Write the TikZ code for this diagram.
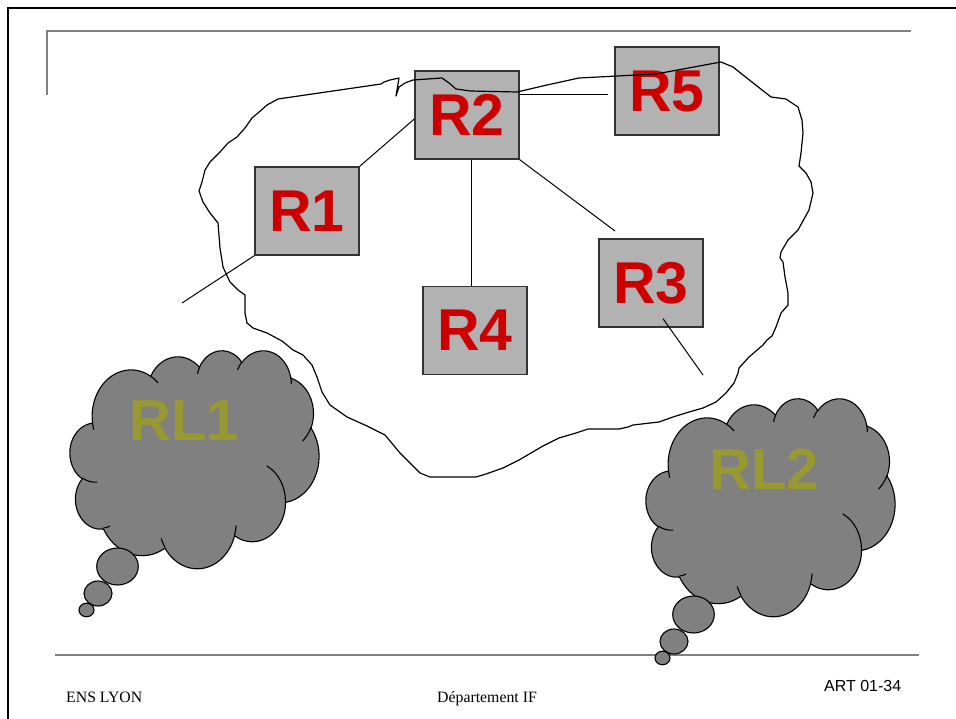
\documentclass[tikz,border=0pt]{standalone}
\usepackage{fontspec}
\setmainfont{Liberation Serif}
\newfontfamily\arialfont{Liberation Sans}

\definecolor{routerred}{HTML}{CC0000}
\definecolor{lanolive}{HTML}{999933}
\definecolor{boxfill}{HTML}{B2B2B2}
\definecolor{boxedge}{HTML}{333333}
\definecolor{cloudgray}{HTML}{808080}
\definecolor{rulegray}{HTML}{808080}

% Elliptical arc in the DrawingML convention: visual start angle and sweep
% are turned into the parametric angles that TikZ's arc expects.
\newcommand\cldang[4]{%
  \pgfmathparse{atan2((#1)*sin(#3),(#2)*cos(#3))}\xdef\cldts{\pgfmathresult}%
  \pgfmathparse{atan2((#1)*sin((#3)+(#4)),(#2)*cos((#3)+(#4)))}\xdef\cldte{\pgfmathresult}%
  \pgfmathparse{\cldte-(\cldts)}\xdef\cldd{\pgfmathresult}%
  \pgfmathparse{\cldd<0 ? \cldd+360 : \cldd}\xdef\cldd{\pgfmathresult}%
}
\newcommand\carc[4]{\pgfextra{\cldang{#1}{#2}{#3}{#4}} arc[x radius=#1, y radius=#2, start angle=\cldts, delta angle=\cldd]}

% Cloud outline on a 432 x 432 grid, with its inner arc ends
\newcommand\cldcloud{%
  \draw[cloudbody] (39.00,143.70)
    \carc{67.53}{91.90}{-190.487483}{123.780533}
    \carc{53.33}{72.67}{-144.102383}{89.945233}
    \carc{43.65}{59.45}{-145.807917}{99.723017}
    \carc{48.57}{65.95}{-130.986067}{117.241733}
    \carc{53.33}{72.73}{-78.708883}{109.026917}
    \carc{67.75}{92.20}{-46.26725}{130.269}
    \carc{57.85}{78.67}{0.625017}{114.033333}
    \carc{67.52}{92.15}{22.4516}{115.17255}
    \carc{77.20}{105.43}{66.242633}{75.711017}
    \carc{43.60}{59.18}{-274.942083}{146.735567}
    \carc{43.45}{59.45}{-246.8285}{152.51885}
    -- cycle;
  \draw[cloudline]
    (46.93,261.77) \carc{43.45}{59.45}{86.742}{26.4295}
    (69.28,348.99) \carc{43.60}{59.18}{73.610467}{11.447467}
    (164.78,390.90) \carc{67.52}{92.15}{137.62415}{14.0811}
    (288.27,347.51) \carc{67.52}{92.15}{6.453267}{15.99835}
    (341.29,229.54) \carc{57.85}{78.67}{-70.29235}{70.917367}
    (417.98,153.54) \carc{53.33}{72.73}{30.318033}{27.7515}
    (383.24,54.26) \carc{48.57}{65.95}{-13.744333}{14.8589}
    (290.78,39.52) \carc{48.57}{65.95}{-149.18145}{18.195367}
    (221.41,47.20) \carc{43.65}{59.45}{-163.494267}{17.68635}
    (140.00,51.92) \carc{67.53}{91.90}{-66.70695}{12.31935}
    (41.27,157.89) \carc{67.53}{91.90}{157.65435}{11.856783};
}

% Thought cloud with its three bubbles; #1,#2 = top-left corner
\newcommand\thoughtcloud[2]{%
  \begin{scope}[shift={(#1,#2)}, x=0.576389pt, y=-0.504630pt]
    \cldcloud
  \end{scope}
  \begin{scope}[shift={(#1,#2)}]
    \draw[cloudbody] (47.5,216.5) ellipse [x radius=20.8, y radius=18.5];
    \draw[cloudbody] (28,243.5) ellipse [x radius=14, y radius=12.5];
    \draw[cloudbody] (16.5,260) ellipse [x radius=7.5, y radius=6.8];
  \end{scope}
}

\begin{document}
\begin{tikzpicture}[x=1pt, y=-1pt,
  router/.style={draw=boxedge, line width=1.4pt, fill=boxfill,
    minimum width=104pt, minimum height=88pt, inner sep=0pt,
    font=\arialfont\bfseries\fontsize{59}{59}\selectfont, text=routerred},
  lanlabel/.style={inner sep=0pt,
    font=\arialfont\bfseries\fontsize{58}{58}\selectfont, text=lanolive},
  link/.style={draw=black, line width=1pt},
  blob/.style={draw=black, line width=1.2pt, line join=round},
  cloudbody/.style={draw=black, line width=1.1pt, fill=cloudgray},
  cloudline/.style={draw=black, line width=1.1pt},
  rule/.style={draw=rulegray, line width=1.4pt},
  frameline/.style={draw=black, line width=2.4pt},
  footer/.style={inner sep=0pt, anchor=base west, font=\fontsize{15.8}{16}\selectfont}]

\useasboundingbox (0,0) rectangle (956,719);
\fill[white] (0,0) rectangle (956,719);

% page frame
\draw[frameline] (8,725) -- (8,8) -- (962,8);

% header and footer rules
\draw[rule] (47,95) -- (47,31) -- (911,31);
\draw[rule] (55,655) -- (919,655);

% footer texts
\node[footer] (ens) at (66,702) {ENS LYON};
\node[footer] (dept) at (437,702) {Département IF};
\node[footer, font=\arialfont\fontsize{16}{16}\selectfont] (art) at (824,691) {ART 01-34};

% local networks
\thoughtcloud{70}{350}
\node[lanlabel] (rl1) at (184,421) {RL1};
\thoughtcloud{646}{398}
\node[lanlabel] (rl2) at (764,469.5) {RL2};

% routers
\node[router] (R1) at (307,211) {R1};
\node[router] (R2) at (467,115) {R2};
\node[router] (R5) at (667,91) {R5};
\node[router] (R3) at (651,283) {R3};
\node[router] (R4) at (475,330.5) {R4};

% free link ends
\coordinate (e1) at (182,303);
\coordinate (e5) at (608,95);
\coordinate (e3) at (615,231);
\coordinate (e3b) at (703,375);

% links
\draw[link] ([yshift=-4pt]R2.west) -- (R1.north east);
\draw[link] (R1.south west) -- (e1);
\draw[link] ([xshift=4pt]R2.south) -- ([xshift=-4pt]R4.north);
\draw[link] ([yshift=20pt]R2.east) -- (e5);
\draw[link] (R2.south east) -- (e3);
\draw[link] ([shift={(12pt,9pt)}]R3.south) -- (e3b);

% backbone outline
\draw[blob] plot[sharp cycle] coordinates {
  (278,99) (381,84) (384,82) (390,80) (399,78) (396,96) (399,87) (405,83)
  (413,80) (442,78) (449,83) (456,89) (470,91) (517,92) (547,85) (579,78)
  (656,74) (721,62) (733,67) (743,75) (771,97) (786,99) (798,107) (802,120)
  (803,133) (801,153) (799,166) (806,173) (811,182) (813,193) (809,210)
  (798,230) (788,240) (781,252) (780,258) (783,262) (785,277) (788,293)
  (788,305) (781,313) (776,327) (772,336) (767,340) (763,345) (749,357)
  (739,368) (738,373) (734,383) (726,393) (716,402) (703,408) (689,412)
  (673,417) (659,422) (633,425) (628,427) (619,429) (588,429) (576,433)
  (559,438) (543,446) (519,460) (503,468) (486,474) (476,477) (430,477)
  (420,473) (400,453) (385,435) (367,426) (347,417) (330,405) (322,392)
  (317,377) (312,365) (303,355) (293,350) (282,341) (267,333) (253,328)
  (247,323) (245,313) (245,295) (238,290) (230,282) (223,267) (220,248)
  (218,223) (210,213) (203,202) (199,191) (202,182) (205,170) (210,162)
  (220,152) (228,143) (237,137) (245,128) (252,118) (258,113) (267,105)};

\end{tikzpicture}
\end{document}
